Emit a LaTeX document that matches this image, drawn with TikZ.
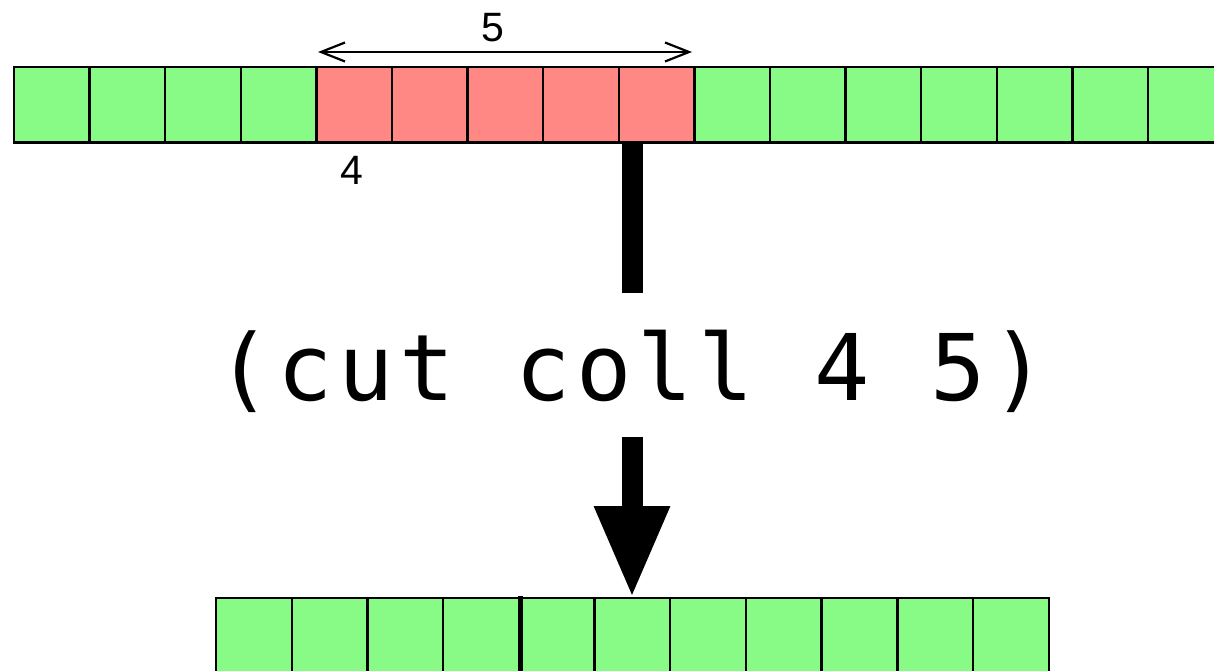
\documentclass[tikz,border=0pt]{standalone}
\usepackage{fontspec}
\setmainfont{Liberation Sans}
\newfontfamily\codefont[LetterSpace=6]{DejaVu Sans Mono}
\usetikzlibrary{arrows.meta}
\definecolor{cellgreen}{RGB}{136,250,134}
\definecolor{cellred}{RGB}{255,136,132}
\tikzset{
  cell/.style={draw=black, line width=2.4pt, minimum width=75.6pt, minimum height=75.6pt,
    inner sep=0pt, outer sep=0pt, fill=cellgreen},
  bcell/.style={cell, minimum width=75.7pt, minimum height=75.7pt},
  hot/.style={fill=cellred},
  num/.style={font=\fontsize{41}{41}\selectfont, inner sep=0pt},
  measure/.style={line width=2.2pt, {Straight Barb[length=24pt,width=19pt]}-{Straight Barb[length=24pt,width=19pt]}},
  bar/.style={line width=21pt},
  bigarrow/.style={line width=21pt, -{Triangle[length=92pt,width=70pt]}},
  divider/.style={line width=5.5pt},
  cmd/.style={font=\codefont\fontsize{92}{92}\selectfont, inner sep=0pt},
}
\begin{document}
\begin{tikzpicture}[x=1pt,y=-1pt]
\useasboundingbox (0,0) rectangle (1214,671);
\clip (0,0) rectangle (1214,671);
% top row
\foreach \i in {0,...,15}{
  \pgfmathsetmacro{\cx}{51.8+75.6*\i}
  \ifnum\i<4
    \node[cell] (t\i) at (\cx,104.8) {};
  \else\ifnum\i<9
    \node[cell,hot] (t\i) at (\cx,104.8) {};
  \else
    \node[cell] (t\i) at (\cx,104.8) {};
  \fi\fi
}
% bottom row
\foreach \i in {0,...,10}{
  \pgfmathsetmacro{\cx}{253.85+75.7*\i}
  \node[bcell] (b\i) at (\cx,635.85) {};
}
\draw[divider] ([yshift=2.5pt,xshift=1.5pt]b3.north east) -- ([xshift=1.5pt]b3.south east);
% measure arrow
\draw[measure] ([yshift=15pt,xshift=1.6pt]t4.north west) -- ([yshift=15pt,xshift=-2.4pt]t8.north east);
\node[num] (five) at (493,28) {5};
\node[num] (four) at (352,170) {4};
% command
\node[cmd, anchor=base] (cmd) at (632,400.7) {(cut coll 4 5)};
\coordinate (a1) at (632,142.6);
\coordinate (a2) at (632,292.7);
\coordinate (a3) at (632,436.7);
\draw[bar] (a1) -- (a2);
\draw[bigarrow] (a3) -- (a3 |- b5.north);
\end{tikzpicture}
\end{document}
